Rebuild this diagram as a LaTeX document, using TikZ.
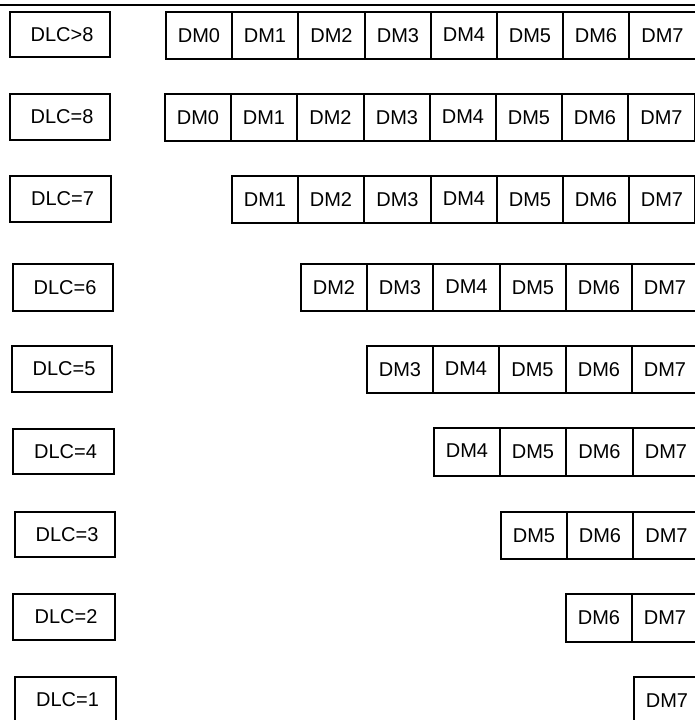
\documentclass[tikz,border=0pt]{standalone}
\usepackage{fontspec}
\setmainfont{Liberation Sans}
\begin{document}
\begin{tikzpicture}[x=1pt,y=-1pt,line width=2pt,
  cellbox/.style={draw=black,rectangle,inner sep=0pt,outer sep=0pt,anchor=north west,
    font=\fontsize{20}{24}\selectfont},
  dlcbox/.style={draw=black,rectangle,inner sep=0pt,outer sep=0pt,anchor=north west,
    font=\fontsize{20}{24}\selectfont}]
\useasboundingbox (0,0) rectangle (695,720);
\clip (0,0) rectangle (695,720);
\coordinate (topL) at (0,5);
\coordinate (topR) at (695,5);
\draw (topL) -- (topR);
\foreach \r/\lab/\lx/\lw/\ly/\lh/\first/\cx/\cy/\ch in {
  1/{DLC>8}/10/100/12/45/0/166/12/47,
  2/{DLC=8}/10/100/94/46/0/165/94/47,
  3/{DLC=7}/10/101/176/46/1/232/176/47,
  4/{DLC=6}/13/100/264/47/2/301/264/47,
  5/{DLC=5}/12/100/346/46/3/367/346/47,
  6/{DLC=4}/13/101/429/45/4/434/428/48,
  7/{DLC=3}/15/100/512/45/5/501/512/47,
  8/{DLC=2}/13/102/594/46/6/566/594/48,
  9/{DLC=1}/15/101/677/46/7/634/677/47}{
  \node[dlcbox,minimum width=\lw pt,minimum height=\lh pt] (l\r) at (\lx,\ly) {\hspace*{4pt}\lab};
  \foreach \k in {\first,...,7}{
    \pgfmathsetmacro\xx{round(\cx+(\k-\first)*66.2)}
    \pgfmathsetmacro\ww{round(\cx+(\k-\first+1)*66.2)-\xx}
    \node[cellbox,minimum width=\ww pt,minimum height=\ch pt] (c\r-\k) at (\xx,\cy)
      {\ifnum\k=4 \raisebox{2pt}{DM\k}\else DM\k\fi};
  }
}
\end{tikzpicture}
\end{document}
